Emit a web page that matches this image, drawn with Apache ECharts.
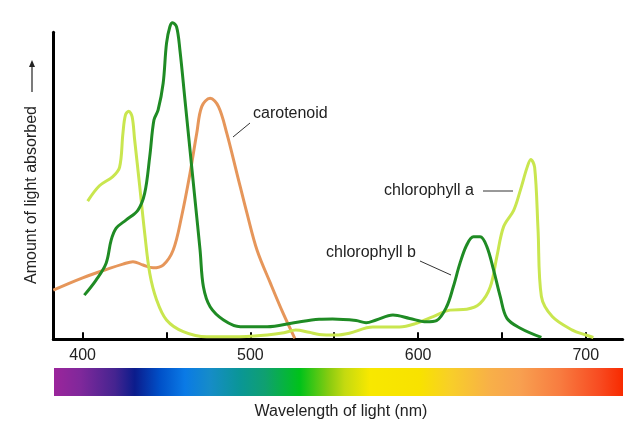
<!DOCTYPE html>
<html>
<head>
<meta charset="utf-8">
<script src="https://cdn.jsdelivr.net/npm/echarts@6/dist/echarts.min.js"></script>
<style>
html,body{margin:0;padding:0;background:#fff;}
#chart{width:638px;height:429px;}
</style>
</head>
<body>
<div id="chart"></div>
<script>
// Wavelength (nm) vs relative absorbance (0-100 scale)
const chlorophyllA = [[403,45],[410,50],[418,53],[422,56],[424,67],[425.5,73],[427.5,74.3],[429.5,72.5],[431,65],[434,50],[437,34.5],[440,21.5],[444,13],[450,6.3],[460,2.5],[474,0.8],[490,0.8],[510,1.4],[520,2.1],[527,3],[535,2.3],[541,1.6],[551,1.4],[559,2],[573,4],[589,4],[599,5.2],[609,7.4],[619,9.5],[629,9.8],[637,11.7],[643,17],[647,27],[651,36.7],[657,42],[661,48.6],[665,56],[667.2,58.6],[669.5,56],[671.5,36],[673.5,14],[680,7.4],[692,3],[700,1.4],[704.5,0.6]];
const chlorophyllB = [[401,14.4],[408,19.3],[414,24.8],[417,32.3],[420,36.2],[426,38.9],[433,42.1],[437,47.6],[440,59.5],[442.5,71.4],[445,74.7],[448,83.4],[450,96.4],[452,101.8],[453.6,103.1],[456,101.8],[458,94.2],[461,78],[464,61.7],[467,45.4],[470,29.1],[472,17.1],[476,10.6],[484,6.3],[494,4.1],[510,4.1],[526,5.4],[541,6.5],[549,6.6],[563,6.1],[569,5.4],[575,6.3],[585,7.9],[595,6.8],[605,5.7],[611,6.1],[617,10.6],[621,17.1],[625,24.8],[629,30.7],[633,33.4],[637,33.4],[641,30.2],[645,22.6],[649,13.9],[653,6.8],[661,3.6],[673.5,0.6]];
const carotenoid = [[382.5,16],[400,20],[416,23.1],[424,24.5],[430,25.3],[436,24.2],[442,23.3],[448,24.2],[454,29.1],[459,40],[464,54],[468,67],[471,75.8],[476,78.5],[481,75.8],[486,67],[492,54],[498,41],[504,29],[512,18.2],[519.5,8.5],[526.5,0.3]];
const tickValues = [400,450,500,550,600,650,700];
const labelValues = [400,500,600,700];
const seriesNames = ['chlorophyll a','chlorophyll b','carotenoid'];
const xTitle = 'Wavelength of light (nm)';
const yTitle = 'Amount of light absorbed';

const FONT = '"Liberation Sans", Arial, sans-serif';
const chart = echarts.init(document.getElementById('chart'));

const spectrumStops = [
  [0,'#9b259b'],[0.046,'#80289b'],[0.107,'#452490'],[0.142,'#0b1c8c'],[0.186,'#0050c8'],
  [0.23,'#0a7ae6'],[0.274,'#168cc8'],[0.327,'#0a9696'],[0.371,'#0fa070'],[0.432,'#00c21a'],
  [0.485,'#8ccc10'],[0.511,'#c4da10'],[0.555,'#f8e800'],[0.643,'#f8e200'],[0.696,'#f8cf28'],
  [0.766,'#f8b048'],[0.819,'#f8a050'],[0.889,'#f87c40'],[0.96,'#f84a20'],[1,'#f82a00']
].map(s => ({offset:s[0], color:s[1]}));

function lineSeries(name, data, color){
  return {
    name, type:'line', data, smooth:0.35, symbol:'none', clip:false,
    lineStyle:{color, width:3}, z:3
  };
}

chart.setOption({
  animation:false,
  backgroundColor:'#fff',
  grid:{left:53.3, right:15.3, top:32.3, bottom:89.7, containLabel:false},
  xAxis:{
    type:'value', min:382.5, max:722,
    axisLine:{lineStyle:{color:'#000', width:3}},
    axisTick:{inside:true, length:7, lineStyle:{color:'#000', width:2}, customValues:tickValues},
    axisLabel:{color:'#222', fontSize:16, fontFamily:FONT, margin:8, customValues:labelValues},
    splitLine:{show:false}
  },
  yAxis:{
    type:'value', min:0, max:100,
    axisLine:{show:true, lineStyle:{color:'#000', width:3}},
    axisTick:{show:false}, axisLabel:{show:false}, splitLine:{show:false}
  },
  series:[
    lineSeries(seriesNames[2], carotenoid, '#e6965a'),
    lineSeries(seriesNames[0], chlorophyllA, '#c9e64f'),
    lineSeries(seriesNames[1], chlorophyllB, '#1f8b24')
  ],
  graphic:[
    {type:'rect', shape:{x:54, y:368, width:569, height:28},
     style:{fill:new echarts.graphic.LinearGradient(0,0,1,0,spectrumStops)}},
    {type:'text', x:341, y:412, style:{text:xTitle, font:'16px '+FONT, fill:'#222', align:'center', verticalAlign:'middle'}},
    {type:'text', x:32, y:195, rotation:Math.PI/2, style:{text:yTitle, font:'16px '+FONT, fill:'#222', align:'center', verticalAlign:'middle'}},
    {type:'line', shape:{x1:32, y1:92, x2:32, y2:65}, style:{stroke:'#222', lineWidth:1.2}},
    {type:'polygon', shape:{points:[[32,60],[29,67],[35,67]]}, style:{fill:'#222'}},
    {type:'text', x:253, y:114, style:{text:seriesNames[2], font:'16px '+FONT, fill:'#222', align:'left', verticalAlign:'middle'}},
    {type:'line', shape:{x1:233, y1:137, x2:250, y2:123}, style:{stroke:'#333', lineWidth:1}},
    {type:'text', x:384, y:191, style:{text:seriesNames[0], font:'16px '+FONT, fill:'#222', align:'left', verticalAlign:'middle'}},
    {type:'line', shape:{x1:483, y1:191, x2:513, y2:191}, style:{stroke:'#333', lineWidth:1}},
    {type:'text', x:326, y:253, style:{text:seriesNames[1], font:'16px '+FONT, fill:'#222', align:'left', verticalAlign:'middle'}},
    {type:'line', shape:{x1:420, y1:261, x2:451, y2:275}, style:{stroke:'#333', lineWidth:1}}
  ]
});
</script>
</body>
</html>
